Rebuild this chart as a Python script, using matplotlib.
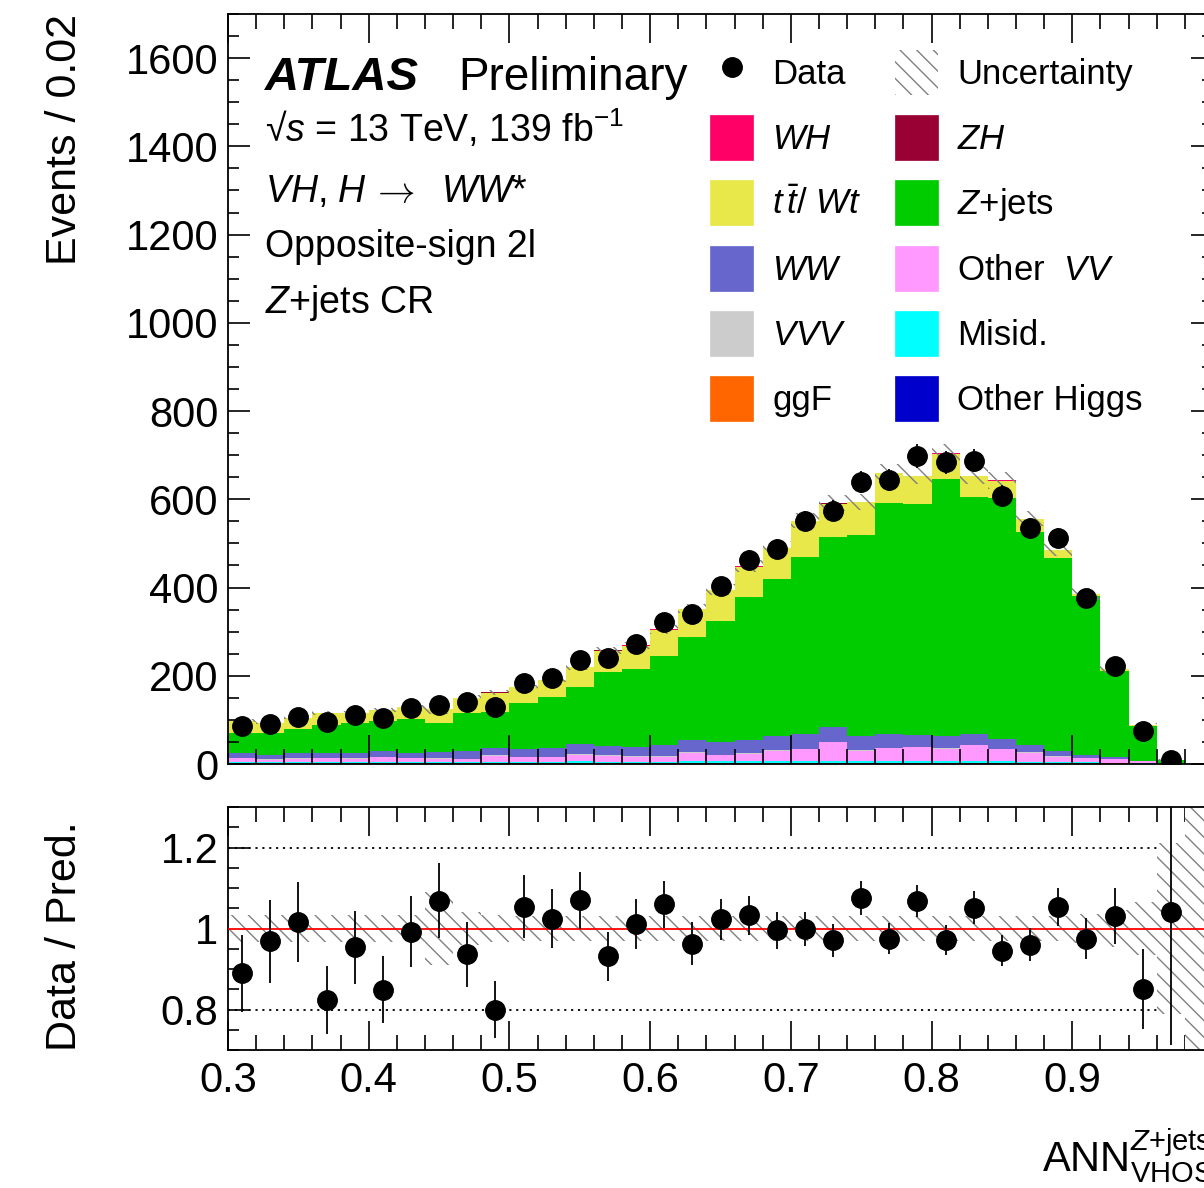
import numpy as np
import matplotlib
matplotlib.use("Agg")
import matplotlib.pyplot as plt
from matplotlib.ticker import MultipleLocator, FormatStrFormatter, FuncFormatter
from matplotlib.patches import Patch
from matplotlib.lines import Line2D

# --- data, bins of 0.02 from 0.30 to 1.00 ---
edges = np.round(np.arange(0.30, 1.0001, 0.02), 2)

data = [87, 91, 107, 95, 111, 104, 128, 133, 140, 130, 184, 196, 235, 240, 272,
        323, 339, 404, 463, 488, 551, 574, 639, 644, 698, 684, 687, 608, 534, 512,
        376, 222, 75, 10, 0]

other_higgs = [0.5, 0.5, 0.5, 0.5, 0.5, 0.5, 0.5, 0.5, 0.5, 0.5, 0.5, 0.5, 0.5, 0.5, 0.5,
               0.5, 0.5, 0.5, 0.5, 0.5, 0.5, 0.5, 0.5, 0.5, 0.5, 0.5, 0.5, 0.5, 0.5, 0.4,
               0.3, 0.2, 0.1, 0.0, 0.0]
ggf = [1.0, 1.0, 1.0, 1.0, 1.0, 1.0, 1.0, 1.0, 1.0, 1.2, 1.2, 1.2, 1.5, 1.5, 1.5,
       1.5, 1.8, 1.8, 1.8, 2.0, 2.0, 2.0, 2.0, 2.0, 2.0, 2.0, 2.0, 1.8, 1.6, 1.4,
       1.2, 1.0, 0.5, 0.1, 0.0]
misid = [3.0, 2.5, 3.0, 3.0, 2.5, 3.0, 3.0, 2.5, 2.5, 3.5, 3.0, 3.0, 5.0, 3.5, 3.0,
         3.0, 4.0, 3.5, 4.0, 4.0, 4.0, 4.5, 4.0, 4.5, 4.0, 4.0, 4.5, 4.0, 3.0, 2.5,
         2.0, 1.5, 1.0, 0.2, 0.0]
other_vv = [8.3, 6.0, 7.5, 9.1, 8.0, 10.5, 9.1, 8.0, 6.6, 13.8, 10.3, 10.3, 14.0, 13.5, 12.0,
            12.0, 19.7, 14.2, 16.7, 23.5, 26.5, 42.0, 23.5, 29.0, 31.5, 28.5, 35.0, 26.7, 19.9, 12.6,
            10.4, 9.2, 4.3, 0.3, 0.0]
vvv = [0.8, 0.8, 0.8, 0.8, 0.8, 0.9, 0.9, 0.9, 0.9, 1.0, 1.0, 1.0, 1.1, 1.1, 1.1,
       1.2, 1.2, 1.2, 1.3, 1.3, 1.3, 1.4, 1.4, 1.4, 1.4, 1.4, 1.3, 1.2, 1.1, 0.9,
       0.7, 0.5, 0.3, 0.1, 0.0]
ww = [10.4, 9.2, 11.2, 11.6, 11.2, 12.8, 11.5, 14.1, 17.2, 16.0, 17.0, 19.5, 22.9, 21.5, 20.9,
      25.8, 26.8, 27.8, 30.7, 31.7, 32.7, 32.6, 31.6, 30.6, 26.6, 26.6, 23.7, 21.8, 16.9, 12.1,
      5.3, 4.5, 1.7, 0.2, 0.0]
zjets = [47, 51, 54.6, 61.7, 68, 69.3, 75, 66.7, 87.3, 82.7, 106, 115.5, 130, 167.4, 176,
         201, 233, 275, 324, 356, 403, 431, 455, 523, 524, 583, 538, 546, 484, 436,
         360, 195, 78, 8.2, 0]
ttbar = [26.5, 22.7, 26.4, 27.3, 24, 24, 27.5, 30.3, 33, 43.3, 35, 39.5, 44, 48, 53,
         59, 64, 70, 68, 70, 80, 76, 75, 68, 62, 57, 47, 40, 28, 19,
         5, 3, 2, 0.5, 0]
zh = [0.1, 0.1, 0.1, 0.1, 0.1, 0.2, 0.2, 0.2, 0.2, 0.2, 0.2, 0.3, 0.3, 0.3, 0.3,
      0.3, 0.4, 0.4, 0.4, 0.4, 0.5, 0.5, 0.5, 0.5, 0.5, 0.5, 0.5, 0.4, 0.4, 0.3,
      0.2, 0.2, 0.1, 0.0, 0.0]
wh = [0.2, 0.2, 0.2, 0.3, 0.3, 0.3, 0.3, 0.3, 0.4, 0.4, 0.4, 0.5, 0.5, 0.5, 0.6,
      0.6, 0.7, 0.7, 0.8, 0.8, 0.9, 0.9, 1.0, 1.0, 1.0, 1.0, 0.9, 0.9, 0.8, 0.6,
      0.5, 0.3, 0.1, 0.0, 0.0]
# relative uncertainty on the prediction
syst = [0.033, 0.033, 0.033, 0.033, 0.033, 0.033, 0.033, 0.09, 0.04, 0.033,
        0.03, 0.03, 0.03, 0.03, 0.03, 0.03, 0.03, 0.03, 0.03, 0.03,
        0.03, 0.03, 0.03, 0.03, 0.03, 0.03, 0.03, 0.03, 0.03, 0.03,
        0.035, 0.045, 0.065, 0.21, 1.0]

# stacking order, bottom -> top
stack = [
    (other_higgs, '#0000cc', 'Other Higgs'),
    (ggf, '#ff6600', 'ggF'),
    (misid, '#00ffff', 'Misid.'),
    (other_vv, '#ff99ff', r'Other  $VV$'),
    (vvv, '#cccccc', r'$VVV$'),
    (ww, '#6666cc', r'$WW$'),
    (zjets, '#00cc00', r'$Z$+jets'),
    (ttbar, '#e8e84a', r'$t\,\bar{t}$/ $Wt$'),
    (zh, '#990033', r'$ZH$'),
    (wh, '#ff0066', r'$WH$'),
]

# --- style ---
plt.rcParams['font.family'] = ['Liberation Sans', 'DejaVu Sans']
plt.rcParams['mathtext.fontset'] = 'custom'
plt.rcParams['mathtext.rm'] = 'Liberation Sans'
plt.rcParams['mathtext.it'] = 'Liberation Sans:italic'
plt.rcParams['mathtext.bf'] = 'Liberation Sans:bold'
plt.rcParams['mathtext.fallback'] = 'stixsans'
plt.rcParams['hatch.linewidth'] = 1.0
plt.rcParams['axes.linewidth'] = 1.3

W, H = 1204, 1188
fig = plt.figure(figsize=(W / 100, H / 100), dpi=100)
ax = fig.add_axes([228 / W, 1 - 764 / H, 985 / W, 750 / H])
ax2 = fig.add_axes([228 / W, 1 - 1050 / H, 985 / W, 243 / H])

centers = 0.5 * (edges[:-1] + edges[1:])
d = np.array(data, dtype=float)

# cumulative stack, drawn top layer first so there are no seams
cum = []
base = np.zeros(len(centers))
for vals, col, lab in stack:
    base = base + np.array(vals, dtype=float)
    cum.append(base.copy())
total = base
for (vals, col, lab), top in reversed(list(zip(stack, cum))):
    ax.stairs(top, edges, baseline=0, fill=True, color=col, lw=0, zorder=1)

unc = np.array(syst)
hatch_col = '#808080'
ax.stairs(total * (1 + unc), edges, baseline=total * (1 - unc), fill=True,
          facecolor='none', edgecolor=hatch_col, hatch='\\\\', lw=0, zorder=2)

m = d > 0
ax.errorbar(centers[m], d[m], yerr=np.sqrt(d[m]), fmt='o', color='k', ms=14,
            elinewidth=1.3, capsize=0, zorder=5)

# --- ratio panel ---
with np.errstate(divide='ignore', invalid='ignore'):
    ratio = np.where(total > 0, d / total, np.nan)
    rerr = np.where(total > 0, np.sqrt(d) / total, np.nan)
mr = m & (total > 0)

ax2.axhline(0.8, color='k', lw=1.3, ls=(0, (1.2, 2.6)), zorder=1)
ax2.axhline(1.2, color='k', lw=1.3, ls=(0, (1.2, 2.6)), zorder=1)
ax2.stairs(1 + unc, edges, baseline=1 - unc, fill=True, facecolor='white',
           edgecolor=hatch_col, hatch='\\\\', lw=0, zorder=2)
ax2.axhline(1.0, color='#ff0000', lw=1.3, zorder=3)
ax2.errorbar(centers[mr], ratio[mr], yerr=rerr[mr], fmt='o', color='k', ms=14,
             elinewidth=1.3, capsize=0, zorder=5)

# --- axes ---
for a in (ax, ax2):
    a.set_xlim(0.3, 1.0)
    a.xaxis.set_major_locator(MultipleLocator(0.1))
    a.xaxis.set_minor_locator(MultipleLocator(0.02))
    a.tick_params(which='both', direction='in', top=True, right=True, labelsize=30)
    a.tick_params(axis='x', which='major', length=21, width=1.2)
    a.tick_params(axis='x', which='minor', length=10.5, width=1.2)
    a.tick_params(axis='y', which='major', length=16, width=1.2, pad=7)
    a.tick_params(axis='y', which='minor', length=8, width=1.2)
    a.yaxis.set_major_formatter(FormatStrFormatter('%g'))

ax.set_ylim(0, 1700)
ax.yaxis.set_major_locator(MultipleLocator(200))
ax.yaxis.set_minor_locator(MultipleLocator(50))
ax.tick_params(axis='x', labelbottom=False)

ax2.set_ylim(0.7, 1.3)
ax2.yaxis.set_major_locator(MultipleLocator(0.2))
ax2.yaxis.set_minor_locator(MultipleLocator(0.05))
# the label at 1.0 sits outside the cropped picture, leave it blank
ax2.xaxis.set_major_formatter(FuncFormatter(lambda v, p: '' if v > 0.95 else '%g' % v))
ax2.tick_params(axis='x', which='major', pad=8)

fig.text(65 / W, 1 - 14 / H, 'Events / 0.02', rotation=90, ha='center', va='top', fontsize=31)
fig.text(65 / W, 1 - 936 / H, 'Data / Pred.', rotation=90, ha='center', va='center', fontsize=31)
ax2.text(1.0, -122 / 243, r'ANN$^{Z\mathrm{+jets}}_{\mathrm{VHOS}}$', transform=ax2.transAxes,
         ha='right', va='baseline', fontsize=30)

# --- labels ---
fig.text(265 / W, 1 - 90 / H, 'ATLAS', fontsize=34, fontweight='bold', fontstyle='italic',
         va='baseline')
fig.text(458 / W, 1 - 90 / H, 'Preliminary', fontsize=33, va='baseline')
info = [r'√$s$ = 13 TeV, 139 fb$^{-1}$', None, 'Opposite-sign 2l', r'$Z$+jets CR']
info_y = [142, 202, 257, 313]
for txt, yy in zip(info, info_y):
    if txt:
        fig.text(265 / W, 1 - yy / H, txt, fontsize=27, va='baseline')
# VH, H -> WW* line in three pieces so the arrow gets a long glyph
fig.text(265 / W, 1 - 202 / H, r'$VH$, $H$', fontsize=27, va='baseline')
fig.text(371 / W, 1 - 202 / H, r'$\rightarrow$', fontsize=27, va='baseline',
         math_fontfamily='cm')
fig.text(441 / W, 1 - 202 / H, r'$WW$*', fontsize=27, va='baseline')

# --- legend, two columns ---
data_h = Line2D([], [], marker='o', color='k', ls='none', ms=14)
unc_h = Patch(facecolor='none', edgecolor=hatch_col, hatch='\\\\', lw=0)


def box(i):
    return Patch(facecolor=stack[i][1], edgecolor=stack[i][1], lw=0.5)


col1 = [(data_h, 'Data'), (box(9), stack[9][2]), (box(7), stack[7][2]),
        (box(5), stack[5][2]), (box(4), stack[4][2]), (box(1), stack[1][2])]
col2 = [(unc_h, 'Uncertainty'), (box(8), stack[8][2]), (box(6), stack[6][2]),
        (box(3), stack[3][2]), (box(2), stack[2][2]), (box(0), stack[0][2])]

leg_kw = dict(loc='upper left', frameon=False, fontsize=25, borderpad=0, borderaxespad=0,
              handlelength=1.24, handleheight=1.62, labelspacing=0.58, handletextpad=0.55,
              bbox_transform=fig.transFigure)
leg1 = ax.legend([h for h, _ in col1], [t for _, t in col1],
                 bbox_to_anchor=(710 / W, 1 - 50 / H), **leg_kw)
ax.add_artist(leg1)
ax.legend([h for h, _ in col2], [t for _, t in col2],
          bbox_to_anchor=(895 / W, 1 - 50 / H), **leg_kw)

fig.savefig('out.png', dpi=100)
